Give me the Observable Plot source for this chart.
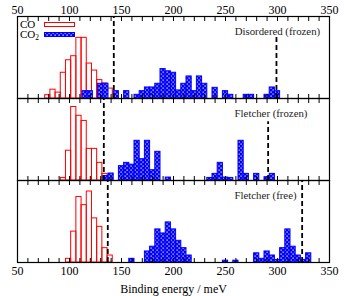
<!DOCTYPE html>
<html><head><meta charset="utf-8">
<script src="https://cdn.jsdelivr.net/npm/d3@7"></script>
<script src="https://cdn.jsdelivr.net/npm/@observablehq/plot@0.6"></script>
<style>
body{margin:0;background:#fff;}
#chart{position:relative;width:347px;height:296px;}
#chart svg{display:block}
#chart svg, #chart svg text{font-family:"Liberation Serif","Times New Roman",serif !important;font-weight:normal !important;}
#legend{position:absolute;left:0;top:0;pointer-events:none}
</style></head><body>
<svg width="0" height="0" style="position:absolute">
<defs><pattern id="hatch" patternUnits="userSpaceOnUse" width="4" height="4">
<rect width="4" height="4" fill="#0000ff"/>
<rect x="0.5" y="0.5" width="1.2" height="1.2" fill="#fff"/>
<rect x="2.5" y="2.5" width="1.2" height="1.2" fill="#fff"/>
</pattern></defs></svg>
<div id="chart"></div>
<script>
// ---- data ----
const panels = ["Disordered (frozen)", "Fletcher (frozen)", "Fletcher (free)"];
const binWidth = 5;
const yMax = 22.3;

// CO histograms (bin centres in meV, counts)
const coCenters1 = [79.1, 84.1, 89.1, 94.1, 99.1, 104.1, 109.1, 114.1, 119.1, 124.1, 129.1, 134.1, 139.1];
const coCounts1  = [0.9, 2.4, 1.6, 7.0, 10.4, 11.5, 16.5, 16.5, 9.5, 7.6, 5.0, 4.1, 2.7];
const coCenters2 = [94.1, 99.1, 104.1, 109.1, 114.1, 119.1, 124.1, 129.1, 134.1];
const coCounts2  = [0.7, 8.1, 20.0, 17.6, 16.2, 8.6, 8.6, 4.8, 1.8];
const coCenters3 = [99.1, 104.1, 109.1, 114.1, 119.1, 124.1, 129.1, 134.1, 139.1];
const coCounts3  = [1.0, 8.4, 17.8, 15.6, 19.3, 12.0, 9.7, 3.9, 1.9];

// CO2 histograms
const co2Centers1 = [115, 120, 130, 135, 145, 155, 165, 170, 175, 180, 185, 190, 195, 200, 205, 210, 215, 220, 225, 230, 240, 250, 255, 270, 275, 290, 295, 300];
const co2Counts1  = [2, 2, 4, 4, 2, 2, 1, 2, 3, 3, 4, 8, 7.4, 7, 2.2, 4, 6, 2, 6, 4, 2.9, 2, 1, 1, 1, 1, 3, 2];
const co2Centers2 = [135, 140, 150, 155, 160, 165, 170, 175, 180, 185, 195, 235, 240, 245, 250, 255, 265, 270, 280, 290, 295];
const co2Counts2  = [1.2, 1.9, 3.9, 4.8, 4.3, 10.8, 5.8, 10.8, 2.8, 7.8, 0.8, 0.7, 1.8, 4.8, 0.8, 0.7, 10.8, 1.8, 1.8, 0.9, 1.8];
const co2Centers3 = [160, 175, 180, 185, 190, 195, 200, 205, 210, 215, 250, 260, 280, 285, 290, 295, 300, 305, 310, 315, 320, 325, 330];
const co2Counts3  = [1, 3, 4.3, 9, 7.9, 10.9, 9, 5.9, 3.9, 1.9, 0.5, 0.5, 2.5, 1, 3, 1.9, 0.7, 3.9, 9, 4.3, 1.9, 0.7, 2.5];

// dashed reference lines (meV) and their top (count units)
const dashX   = [142.6, 299, 133, 291, 136.8, 323.7];
const dashTop = [22.3, 16.9, 22.3, 16, 22.3, 22.3];
const dashPanel = [0, 0, 1, 1, 2, 2];

// panel label anchor (right end, meV / count units)
const labelX = [341, 328.8, 318.3];
const labelY = [18.3, 18.3, 18.3];

const majorTicks = [50, 100, 150, 200, 250, 300, 350];
const minorTicks = d3.range(50, 351, 10);

// ---- build tables ----
function hist(panelIdx, centers, counts) {
  return centers.map((c, i) => ({panel: panels[panelIdx], x1: c - binWidth / 2, x2: c + binWidth / 2, count: counts[i]}));
}
const coData = [...hist(0, coCenters1, coCounts1), ...hist(1, coCenters2, coCounts2), ...hist(2, coCenters3, coCounts3)];
const co2Data = [...hist(0, co2Centers1, co2Counts1), ...hist(1, co2Centers2, co2Counts2), ...hist(2, co2Centers3, co2Counts3)];
const dashData = dashX.map((x, i) => ({panel: panels[dashPanel[i]], x, bottom: 0, top: dashTop[i]}));
const labelData = panels.map((p, i) => ({panel: p, x: labelX[i], y: labelY[i]}));

const chart = Plot.plot({
  width: 347, height: 296,
  marginTop: 15, marginBottom: 33, marginLeft: 17, marginRight: 18,
  style: {fontSize: "12px", background: "white", color: "black"},
  x: {domain: [50, 350]},
  y: {domain: [0, yMax], axis: null},
  fy: {domain: panels, axis: null, padding: 0},
  marks: [
    Plot.rectY(coData, {x1: "x1", x2: "x2", y: "count", fy: "panel", fill: "none", stroke: "#ff0000", strokeWidth: 1}),
    Plot.rectY(co2Data, {x1: "x1", x2: "x2", y: "count", fy: "panel", fill: "url(#hatch)", stroke: "#0000ff", strokeWidth: 1}),
    Plot.ruleX(dashData, {x: "x", y1: "bottom", y2: "top", fy: "panel", stroke: "black", strokeWidth: 1.8, strokeDasharray: "5,3"}),
    Plot.text(labelData, {x: "x", y: "y", fy: "panel", text: "panel", textAnchor: "end", fontSize: 10.8, fill: "#222"}),
    Plot.frame({stroke: "black", strokeWidth: 1.2}),
    Plot.axisX({anchor: "top", ticks: minorTicks, tickSize: -4, tickFormat: () => "", facetAnchor: null, label: null}),
    Plot.axisX({anchor: "bottom", ticks: minorTicks, tickSize: -4, tickFormat: () => "", facetAnchor: null, label: null}),
    Plot.axisX({anchor: "top", ticks: majorTicks, tickSize: 0, tickPadding: 3, fontSize: 12, label: null}),
    Plot.axisX({anchor: "bottom", ticks: majorTicks, tickSize: 0, tickPadding: 4, fontSize: 12, label: "Binding energy / meV", labelAnchor: "center", labelOffset: 30, labelArrow: "none"})
  ]
});
const host = document.getElementById("chart");
host.appendChild(chart);

// legend overlay (inside top panel)
const ns = "http://www.w3.org/2000/svg";
const leg = document.createElementNS(ns, "svg");
leg.setAttribute("id", "legend");
leg.setAttribute("width", 347);
leg.setAttribute("height", 296);
leg.innerHTML = `
  <text x="20" y="28" font-size="11" fill="black">CO</text>
  <rect x="44.5" y="22.5" width="30" height="4" fill="white" stroke="#ff0000" stroke-width="1"/>
  <text x="20" y="38" font-size="11" fill="black">CO<tspan font-size="7.5" dy="2">2</tspan></text>
  <rect x="44.5" y="32.5" width="30" height="4" fill="url(#hatch)" stroke="#0000ff" stroke-width="1"/>`;
host.appendChild(leg);
</script>
</body></html>
